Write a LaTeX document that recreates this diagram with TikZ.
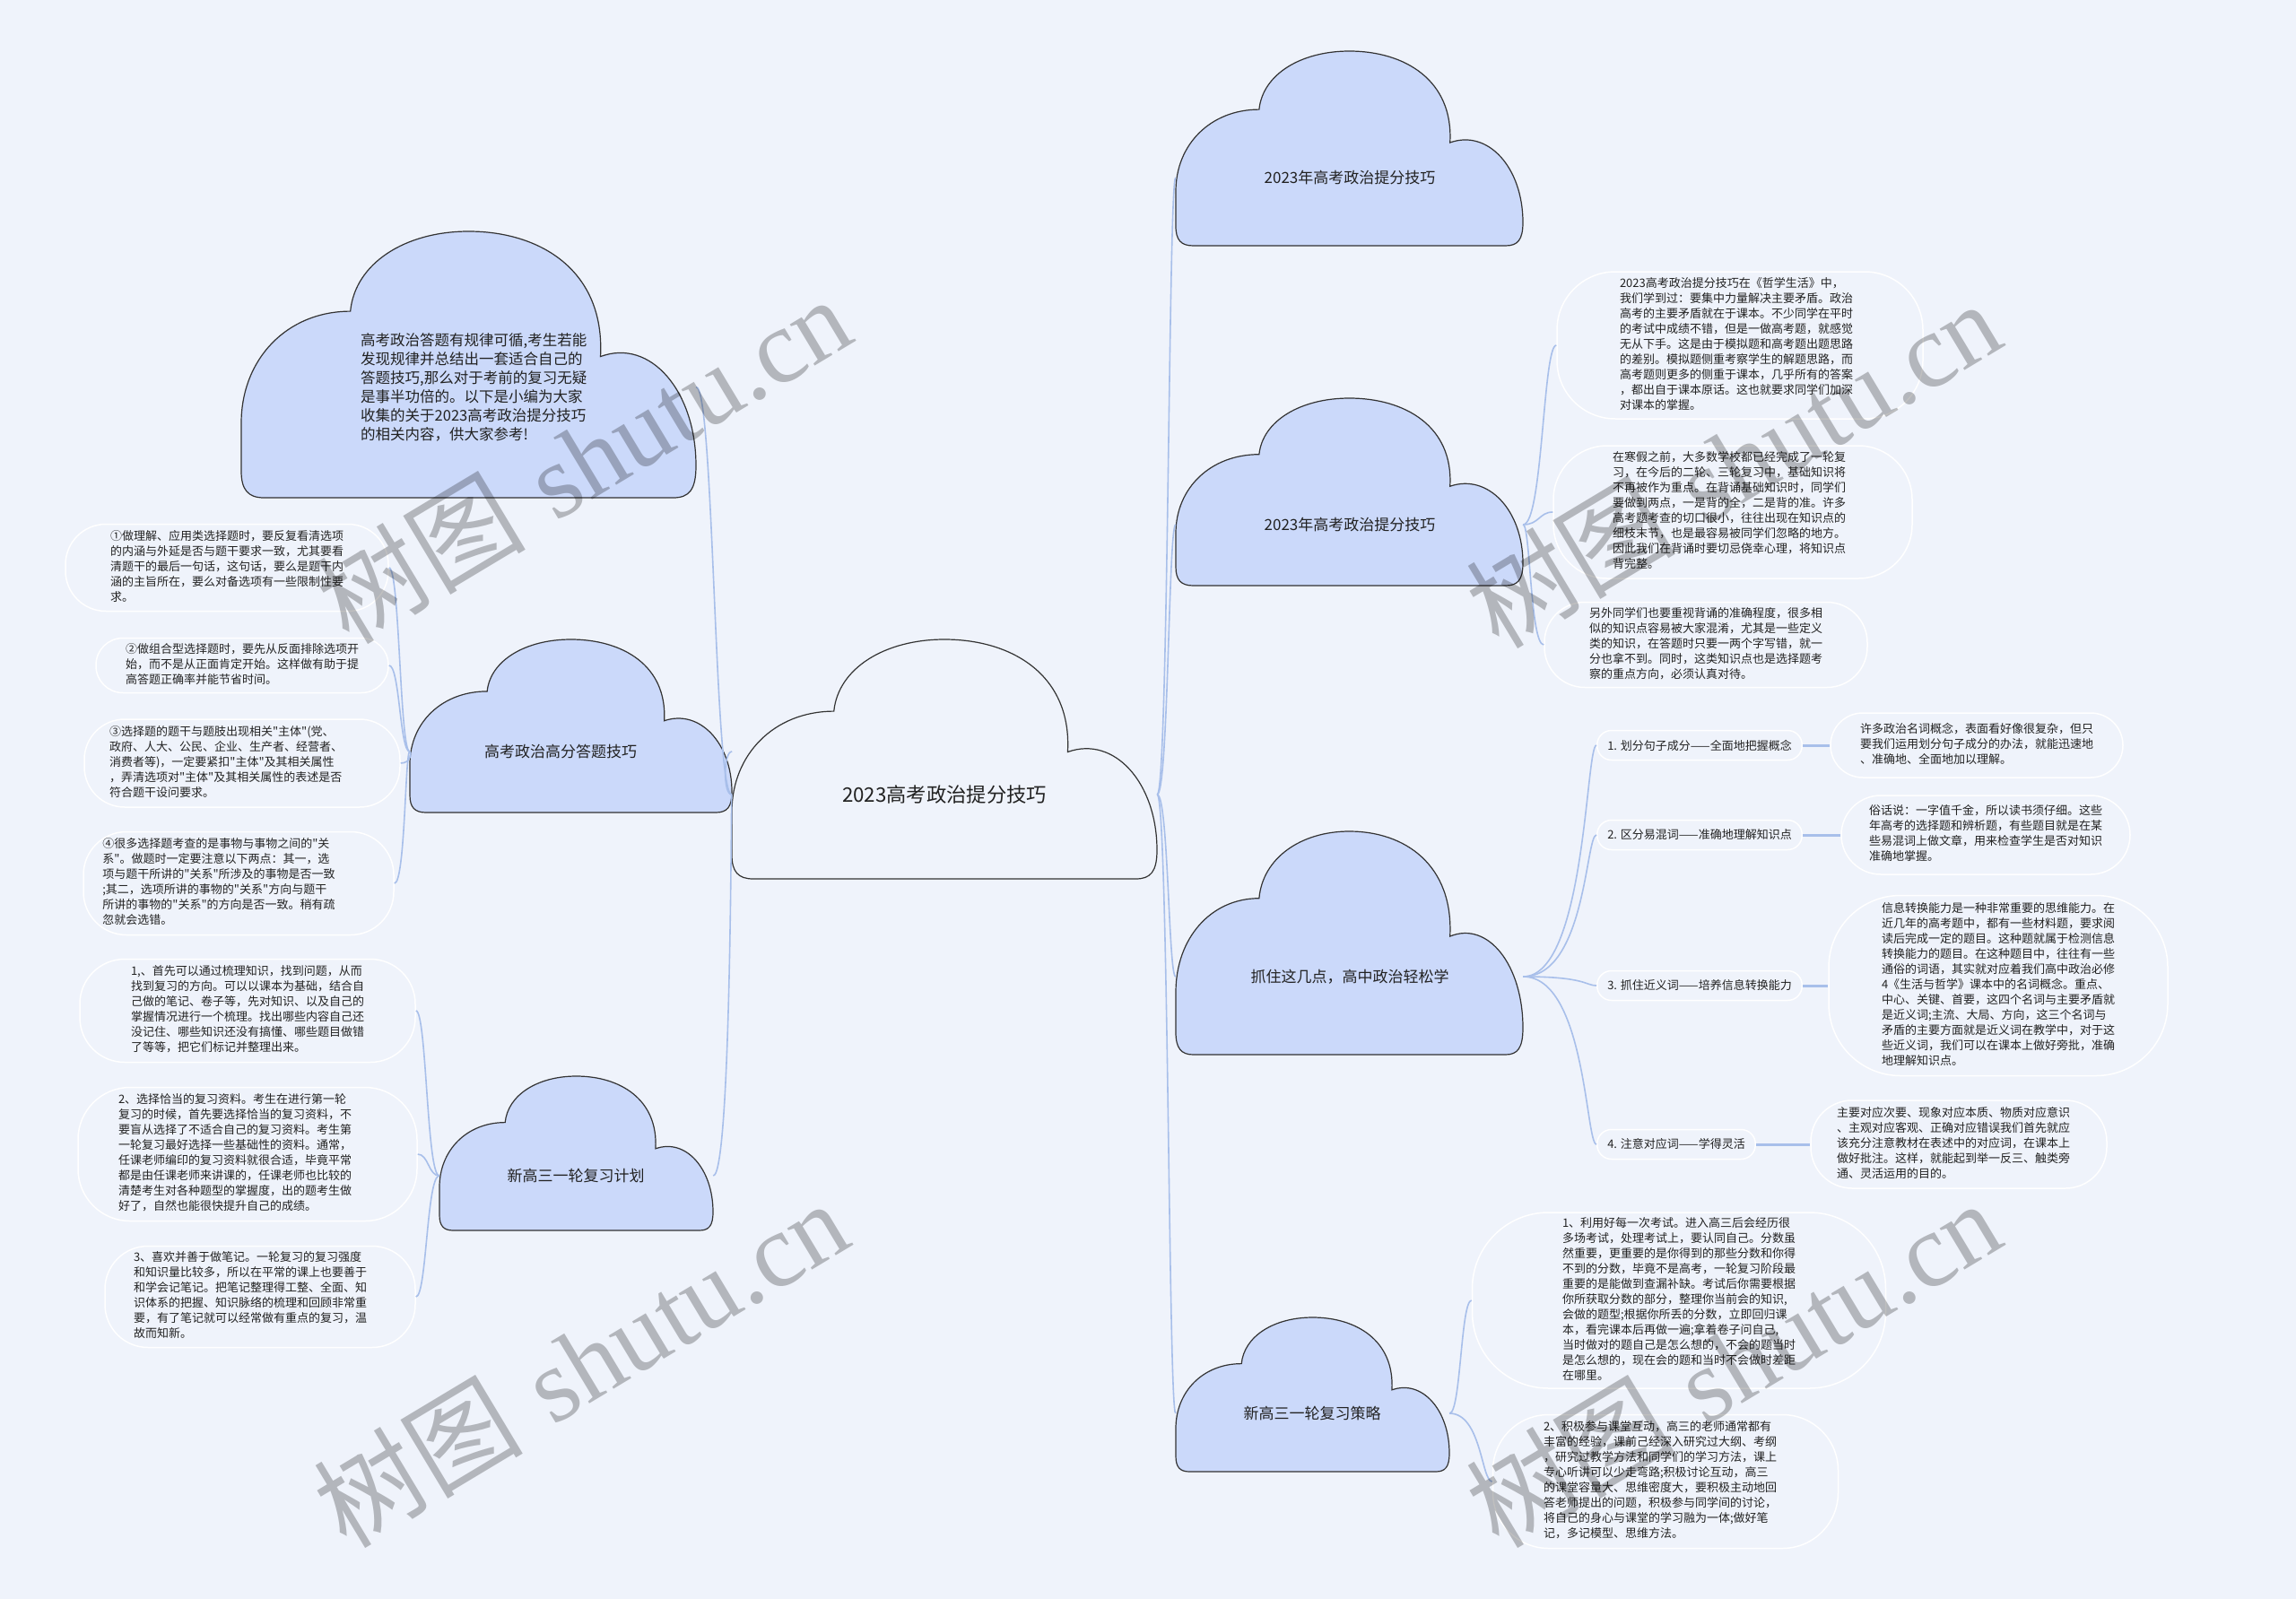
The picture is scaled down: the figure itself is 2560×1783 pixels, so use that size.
\documentclass[tikz,border=0pt]{standalone}
\usepackage{fontspec}
\setmainfont{Noto Sans CJK SC}[Ligatures=TeXOff]
\newfontfamily\wmserif{Liberation Serif}
\usetikzlibrary{calc}
\definecolor{bg}{HTML}{EFF3FB}
\definecolor{cloudfill}{HTML}{CBD9FA}
\definecolor{linkc}{HTML}{A8BFEA}
\definecolor{ink}{HTML}{222222}
\tikzset{
 cloudline/.style={draw=black!80, line width=1.2pt},
 link/.style={draw=linkc, line width=1.6pt},
 linkthick/.style={draw=linkc, line width=3pt},
 leaf/.style={draw=white, line width=1.5pt, inner sep=0pt, text=ink, font=\fontsize{13}{17}\selectfont},
 subitem/.style={draw=white, line width=1.5pt, inner xsep=11.5pt, inner ysep=0pt, minimum height=33pt, rounded corners=16pt, anchor=west, text=ink, font=\fontsize{13}{16}\selectfont},
 clabel/.style={text=ink, font=\fontsize{17}{20}\selectfont, inner sep=0pt},
 wm/.style={text=black, opacity=0.25, font=\fontsize{117}{125}\selectfont, rotate=31},
 cbox/.style={inner sep=0pt, draw=none},
}
\newcommand\cloudshape[6]{%
 \node[cbox, minimum width={#4-#2}, minimum height={#5-#3}] (#1) at ({(#2+#4)/2},{(#3+#5)/2}) {};
 \begin{scope}[shift={(#2,#3)}, xscale={#4-#2}, yscale={#5-#3}]
  \path[cloudline, fill=#6] (0.05,1) -- (0.95,1) .. controls (0.985,1) and (1,0.97) .. (1,0.88)
   .. controls (1,0.60) and (0.90,0.40) .. (0.79,0.47)
   .. controls (0.80,0.15) and (0.66,0) .. (0.50,0)
   .. controls (0.36,0) and (0.25,0.12) .. (0.24,0.30)
   .. controls (0.10,0.30) and (0,0.48) .. (0,0.72)
   -- (0,0.90) .. controls (0,0.97) and (0.015,1) .. (0.05,1) -- cycle;
 \end{scope}}
% name, cx, cy, W, H, radius, text-shift-left, text
\newcommand\leafat[8]{\node[leaf, minimum width=#4, minimum height=#5, rounded corners=#6] (#1) at (#2,#3) {\hspace*{-#7pt}\hspace*{-#7pt}\begin{tabular}{@{}l@{}}#8\end{tabular}};}
\newcommand\linkto[3]{\draw[link] (#1) .. controls ($(#1 -| #2)+(#3,0)$) and ($(#2)+(#3,0)$) .. (#2);}
\begin{document}
\begin{tikzpicture}[x=1pt,y=-1pt]
\path[fill=bg] (0,0) rectangle (2560,1783);
\useasboundingbox (0,0) rectangle (2560,1783);

% clouds
\cloudshape{tl}{269}{258}{776}{555}{cloudfill}
\cloudshape{gf}{457}{713}{816}{906}{cloudfill}
\cloudshape{jh}{490}{1200}{795}{1372}{cloudfill}
\cloudshape{root}{816}{713}{1290}{980}{bg}
\cloudshape{tr1}{1311}{57}{1698}{274}{cloudfill}
\cloudshape{tr2}{1311}{444}{1698}{653}{cloudfill}
\cloudshape{zz}{1311}{927}{1698}{1176}{cloudfill}
\cloudshape{cl}{1311}{1469}{1616}{1641}{cloudfill}

% cloud texts
\node[clabel, font=\fontsize{22.3}{26}\selectfont] (root-t) at (1053,886) {2023高考政治提分技巧};
\node[anchor=west, align=left, inner sep=0pt, text=ink, font=\fontsize{16.5}{21}\selectfont] (tl-t) at (402,431.5) {高考政治答题有规律可循,考生若能\\发现规律并总结出一套适合自己的\\答题技巧,那么对于考前的复习无疑\\是事半功倍的。以下是小编为大家\\收集的关于2023高考政治提分技巧\\的相关内容，供大家参考!};
\node[clabel] (gf-t) at (625,838) {高考政治高分答题技巧};
\node[clabel] (jh-t) at (642,1311) {新高三一轮复习计划};
\node[clabel] (tr1-t) at (1505,198) {2023年高考政治提分技巧};
\node[clabel] (tr2-t) at (1505,585) {2023年高考政治提分技巧};
\node[clabel] (zz-t) at (1505,1089) {抓住这几点，高中政治轻松学};
\node[clabel] (cl-t) at (1463,1576) {新高三一轮复习策略};

\coordinate (root-L) at (root.west |- root-t);
\coordinate (root-R) at (root.east |- root-t);
\coordinate (tl-R) at (tl.east |- tl-t);
\coordinate (gf-L) at (gf.west |- gf-t);
\coordinate (gf-R) at (gf.east |- gf-t);
\coordinate (jh-L) at (jh.west |- jh-t);
\coordinate (jh-R) at (jh.east |- jh-t);
\coordinate (tr1-L) at (tr1.west |- tr1-t);
\coordinate (tr2-L) at (tr2.west |- tr2-t);
\coordinate (tr2-R) at (tr2.east |- tr2-t);
\coordinate (zz-L) at (zz.west |- zz-t);
\coordinate (zz-R) at (zz.east |- zz-t);
\coordinate (cl-L) at (cl.west |- cl-t);
\coordinate (cl-R) at (cl.east |- cl-t);

% leaves left
\leafat{L1}{253}{633}{360}{97}{45}{0}{①做理解、应用类选择题时，要反复看清选项\\的内涵与外延是否与题干要求一致，尤其要看\\清题干的最后一句话，这句话，要么是题干内\\涵的主旨所在，要么对备选项有一些限制性要\\求。}
\leafat{L2}{270}{742}{326}{61}{30}{0}{②做组合型选择题时，要先从反面排除选项开\\始，而不是从正面肯定开始。这样做有助于提\\高答题正确率并能节省时间。}
\leafat{L3}{270}{851}{352}{98}{45}{18}{③选择题的题干与题肢出现相关"主体"(党、\\政府、人大、公民、企业、生产者、经营者、\\消费者等)，一定要紧扣"主体"及其相关属性\\，弄清选项对"主体"及其相关属性的表述是否\\符合题干设问要求。}
\leafat{L4}{266}{985}{346}{115}{48}{22}{④很多选择题考查的是事物与事物之间的"关\\系"。做题时一定要注意以下两点：其一，选\\项与题干所讲的"关系"所涉及的事物是否一致\\;其二，选项所讲的事物的"关系"方向与题干\\所讲的事物的"关系"的方向是否一致。稍有疏\\忽就会选错。}
\leafat{L5}{276}{1127}{374}{115}{50}{0}{1,、首先可以通过梳理知识，找到问题，从而\\找到复习的方向。可以以课本为基础，结合自\\己做的笔记、卷子等，先对知识、以及自己的\\掌握情况进行一个梳理。找出哪些内容自己还\\没记住、哪些知识还没有搞懂、哪些题目做错\\了等等，把它们标记并整理出来。}
\leafat{L6}{276}{1287}{378}{149}{58}{14}{2、选择恰当的复习资料。考生在进行第一轮\\复习的时候，首先要选择恰当的复习资料，不\\要盲从选择了不适合自己的复习资料。考生第\\一轮复习最好选择一些基础性的资料。通常，\\任课老师编印的复习资料就很合适，毕竟平常\\都是由任课老师来讲课的，任课老师也比较的\\清楚考生对各种题型的掌握度，出的题考生做\\好了，自然也能很快提升自己的成绩。}
\leafat{L7}{290}{1446}{346}{113}{48}{11}{3、喜欢并善于做笔记。一轮复习的复习强度\\和知识量比较多，所以在平常的课上也要善于\\和学会记笔记。把笔记整理得工整、全面、知\\识体系的把握、知识脉络的梳理和回顾非常重\\要，有了笔记就可以经常做有重点的复习，温\\故而知新。}

% leaves right
\leafat{R1}{1940}{385}{408}{164}{65}{4}{2023高考政治提分技巧在《哲学生活》中，\\我们学到过：要集中力量解决主要矛盾。政治\\高考的主要矛盾就在于课本。不少同学在平时\\的考试中成绩不错，但是一做高考题，就感觉\\无从下手。这是由于模拟题和高考题出题思路\\的差别。模拟题侧重考察学生的解题思路，而\\高考题则更多的侧重于课本，几乎所有的答案\\，都出自于课本原话。这也就要求同学们加深\\对课本的掌握。}
\leafat{R2}{1932}{571}{400}{148}{60}{4}{在寒假之前，大多数学校都已经完成了一轮复\\习，在今后的二轮、三轮复习中，基础知识将\\不再被作为重点。在背诵基础知识时，同学们\\要做到两点，一是背的全，二是背的准。许多\\高考题考查的切口很小，往往出现在知识点的\\细枝末节，也是最容易被同学们忽略的地方。\\因此我们在背诵时要切忌侥幸心理，将知识点\\背完整。}
\leafat{R3}{1902}{719}{360}{95}{45}{0}{另外同学们也要重视背诵的准确程度，很多相\\似的知识点容易被大家混淆，尤其是一些定义\\类的知识，在答题时只要一两个字写错，就一\\分也拿不到。同时，这类知识点也是选择题考\\察的重点方向，必须认真对待。}

\node[subitem] (sub1) at (1780,831) {1. 划分句子成分——全面地把握概念};
\node[subitem] (sub2) at (1780,931) {2. 区分易混词——准确地理解知识点};
\node[subitem] (sub3) at (1780,1099) {3. 抓住近义词——培养信息转换能力};
\node[subitem] (sub4) at (1780,1276) {4. 注意对应词——学得灵活};

\leafat{S1}{2204}{831}{326}{72}{36}{0}{许多政治名词概念，表面看好像很复杂，但只\\要我们运用划分句子成分的办法，就能迅速地\\、准确地、全面地加以理解。}
\leafat{S2}{2214}{931}{322}{88}{44}{0}{俗话说：一字值千金，所以读书须仔细。这些\\年高考的选择题和辨析题，有些题目就是在某\\些易混词上做文章，用来检查学生是否对知识\\准确地掌握。}
\leafat{S3}{2228}{1099}{378}{201}{80}{0}{信息转换能力是一种非常重要的思维能力。在\\近几年的高考题中，都有一些材料题，要求阅\\读后完成一定的题目。这种题就属于检测信息\\转换能力的题目。在这种题目中，往往有一些\\通俗的词语，其实就对应着我们高中政治必修\\4《生活与哲学》课本中的名词概念。重点、\\中心、关键、首要，这四个名词与主要矛盾就\\是近义词;主流、大局、方向，这三个名词与\\矛盾的主要方面就是近义词在教学中，对于这\\些近义词，我们可以在课本上做好旁批，准确\\地理解知识点。}
\leafat{S4}{2184}{1276}{330}{98}{46}{6}{主要对应次要、现象对应本质、物质对应意识\\、主观对应客观、正确对应错误我们首先就应\\该充分注意教材在表述中的对应词，在课本上\\做好批注。这样，就能起到举一反三、触类旁\\通、灵活运用的目的。}

\leafat{T1}{1872}{1450}{461}{196}{85}{0}{1、利用好每一次考试。进入高三后会经历很\\多场考试，处理考试上，要认同自己。分数虽\\然重要，更重要的是你得到的那些分数和你得\\不到的分数，毕竟不是高考，一轮复习阶段最\\重要的是能做到查漏补缺。考试后你需要根据\\你所获取分数的部分，整理你当前会的知识,\\会做的题型;根据你所丢的分数，立即回归课\\本，看完课本后再做一遍;拿着卷子问自己,\\当时做对的题自己是怎么想的，不会的题当时\\是怎么想的，现在会的题和当时不会做时差距\\在哪里。}
\leafat{T2}{1857}{1652}{385}{149}{62}{6}{2、积极参与课堂互动，高三的老师通常都有\\丰富的经验，课前己经深入研究过大纲、考纲\\，研究过教学方法和同学们的学习方法，课上\\专心听讲可以少走弯路;积极讨论互动，高三\\的课堂容量大、思维密度大，要积极主动地回\\答老师提出的问题，积极参与同学间的讨论，\\将自己的身心与课堂的学习融为一体;做好笔\\记，多记模型、思维方法。}

% connectors
\linkto{root-R}{tr1-L}{-8}
\linkto{root-R}{tr2-L}{-8}
\linkto{root-R}{zz-L}{-8}
\linkto{root-R}{cl-L}{-8}
\linkto{root-L}{tl-R}{20}
\linkto{root-L}{gf-R}{-10}
\linkto{root-L}{jh-R}{20}
\linkto{gf-L}{L1.east}{12}
\linkto{gf-L}{L2.east}{12}
\linkto{gf-L}{L3.east}{12}
\linkto{gf-L}{L4.east}{12}
\linkto{jh-L}{L5.east}{12}
\linkto{jh-L}{L6.east}{12}
\linkto{jh-L}{L7.east}{12}
\linkto{tr2-R}{R1.west}{-15}
\linkto{tr2-R}{R2.west}{-15}
\linkto{tr2-R}{R3.west}{-15}
\linkto{zz-R}{sub1.west}{-12}
\linkto{zz-R}{sub2.west}{-12}
\linkto{zz-R}{sub3.west}{-12}
\linkto{zz-R}{sub4.west}{-12}
\linkto{cl-R}{T1.west}{-12}
\linkto{cl-R}{T2.west}{-12}
\draw[linkthick] (sub1.east) -- (S1.west);
\draw[linkthick] (sub2.east) -- (S2.west);
\draw[linkthick] (sub3.east) -- (S3.west);
\draw[linkthick] (sub4.east) -- (S4.west);

% watermarks
\node[wm] (wm1) at (650,512) {树图\hspace{0.3em}{\wmserif shutu.cn}};
\node[wm] (wm2) at (1932,517) {树图\hspace{0.3em}{\wmserif shutu.cn}};
\node[wm] (wm3) at (647,1520) {树图\hspace{0.3em}{\wmserif shutu.cn}};
\node[wm] (wm4) at (1932,1520) {树图\hspace{0.3em}{\wmserif shutu.cn}};
\end{tikzpicture}
\end{document}
